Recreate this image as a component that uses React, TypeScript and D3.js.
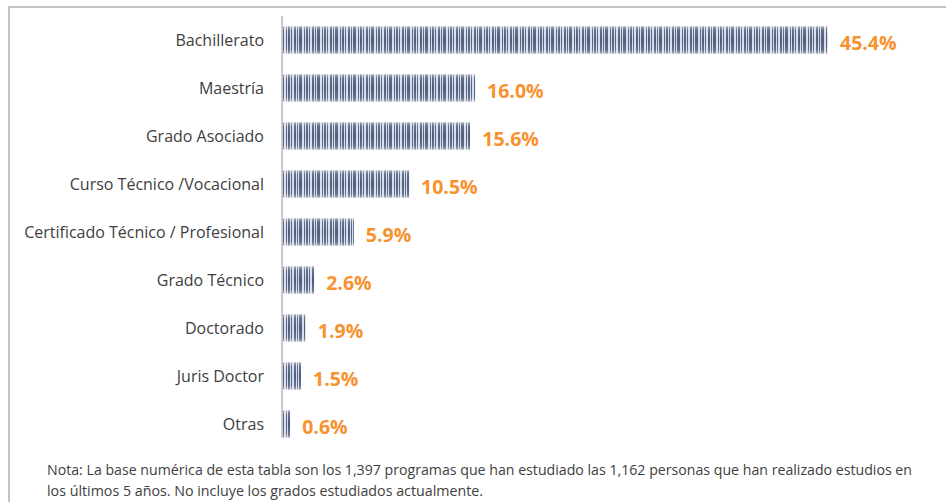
import React, { useEffect, useRef } from 'react';
import * as d3 from 'd3';

const categories = [
  'Bachillerato',
  'Maestría',
  'Grado Asociado',
  'Curso Técnico /Vocacional',
  'Certificado Técnico / Profesional',
  'Grado Técnico',
  'Doctorado',
  'Juris Doctor',
  'Otras',
];
const values = [45.4, 16.0, 15.6, 10.5, 5.9, 2.6, 1.9, 1.5, 0.6];
const noteLines = [
  'Nota: La base numérica de esta tabla son los 1,397 programas que han estudiado las 1,162 personas que han realizado estudios en',
  'los últimos 5 años. No incluye los grados estudiados actualmente.',
];

// stripe widths for the bar texture (dark, light alternating)
const stripes = [2, 1, 1, 2, 2, 1, 1, 1, 3, 2, 1, 1];

const W = 948;
const H = 502;

const App: React.FC = () => {
  const svgRef = useRef<SVGSVGElement>(null);

  useEffect(() => {
    if (!svgRef.current) return;
    const svg = d3.select(svgRef.current);
    svg.selectAll('*').remove();

    const defs = svg.append('defs');
    const total = d3.sum(stripes);
    const pat = defs.append('pattern')
      .attr('id', 'stripes')
      .attr('patternUnits', 'userSpaceOnUse')
      .attr('width', total)
      .attr('height', 10);
    let px = 0;
    stripes.forEach((w, i) => {
      pat.append('rect')
        .attr('x', px).attr('y', 0).attr('width', w).attr('height', 10)
        .attr('fill', i % 2 === 0 ? '#4d5d7e' : '#d6dce8');
      px += w;
    });

    const grad = defs.append('linearGradient')
      .attr('id', 'shine')
      .attr('x1', 0).attr('y1', 0).attr('x2', 0).attr('y2', 1);
    [[0, 0.45], [0.15, 0.12], [0.5, 0], [0.85, 0.12], [1, 0.45]].forEach(([o, a]) => {
      grad.append('stop').attr('offset', o).attr('stop-color', '#ffffff').attr('stop-opacity', a);
    });

    // frame
    svg.append('path')
      .attr('d', `M9,${H} V7 H946`)
      .attr('fill', 'none')
      .attr('stroke', '#c3c3c3')
      .attr('stroke-width', 2);

    const x0 = 283;
    const x = d3.scaleLinear().domain([0, 45.4]).range([x0, 828]);
    const y = d3.scaleBand()
      .domain(categories)
      .range([16, 448])
      .paddingInner(0.44)
      .paddingOuter(0.22);

    const g = svg.append('g');

    const bars = g.selectAll('.bar')
      .data(values)
      .enter()
      .append('g');

    bars.append('rect')
      .attr('x', x0)
      .attr('y', (_, i) => y(categories[i]) || 0)
      .attr('width', d => x(d) - x0)
      .attr('height', y.bandwidth())
      .attr('fill', 'url(#stripes)');
    bars.append('rect')
      .attr('x', x0)
      .attr('y', (_, i) => y(categories[i]) || 0)
      .attr('width', d => x(d) - x0)
      .attr('height', y.bandwidth())
      .attr('fill', 'url(#shine)');

    // axis line
    g.append('line')
      .attr('x1', 282).attr('x2', 282)
      .attr('y1', 16).attr('y2', 438)
      .attr('stroke', '#c8c8c8')
      .attr('stroke-width', 2);

    // category labels
    g.selectAll('.cat')
      .data(categories)
      .enter()
      .append('text')
      .attr('x', 264)
      .attr('y', d => (y(d) || 0) + y.bandwidth() / 2)
      .attr('dy', '0.35em')
      .attr('text-anchor', 'end')
      .attr('fill', '#404040')
      .style('font-family', '"Open Sans", sans-serif')
      .style('font-size', '16px')
      .text(d => d);

    // value labels
    g.selectAll('.val')
      .data(values)
      .enter()
      .append('text')
      .attr('x', d => x(d) + 12)
      .attr('y', (_, i) => (y(categories[i]) || 0) + y.bandwidth() / 2 + 3)
      .attr('dy', '0.35em')
      .attr('fill', '#f7922f')
      .style('font-family', '"Open Sans", sans-serif')
      .style('font-weight', 700)
      .style('font-size', '19.5px')
      .text(d => `${d.toFixed(1)}%`);

    // footnote
    svg.selectAll('.note')
      .data(noteLines)
      .enter()
      .append('text')
      .attr('x', 47)
      .attr('y', (_, i) => 475 + i * 21)
      .attr('fill', '#404040')
      .attr('textLength', (_, i) => (i === 0 ? 865 : 436))
      .attr('lengthAdjust', 'spacingAndGlyphs')
      .style('font-family', '"Open Sans", sans-serif')
      .style('font-size', '14px')
      .text(d => d);
  }, []);

  return (
    <svg
      ref={svgRef}
      width={W}
      height={H}
      style={{ position: 'absolute', left: 0, top: 0, background: '#fff', display: 'block' }}
    />
  );
};

export default App;
